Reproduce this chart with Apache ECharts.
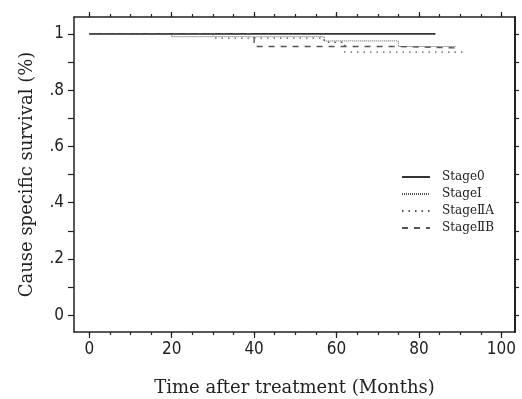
<!DOCTYPE html>
<html>
<head>
<meta charset="utf-8">
<script src="https://cdn.jsdelivr.net/npm/echarts@6/dist/echarts.min.js"></script>
<style>
  html, body { margin: 0; padding: 0; background: #fff; }
  #survivalChart { width: 522px; height: 399px; }
</style>
</head>
<body>
<div id="survivalChart"></div>
<script>
// Kaplan-Meier style curves
const stageNames = ['Stage0', 'StageⅠ', 'StageⅡA', 'StageⅡB'];

const stage0Months = [0, 84];
const stage0Surv = [1, 1];

const stage1Months = [0, 20, 57, 75, 89];
const stage1Surv = [1, 0.99, 0.975, 0.955, 0.955];

const stage2aMonths = [0, 30, 57, 62, 91];
const stage2aSurv = [1, 0.985, 0.97, 0.935, 0.935];

const stage2bMonths = [0, 40, 75, 89];
const stage2bSurv = [1, 0.955, 0.95, 0.95];

const xMajorTicks = [0, 20, 40, 60, 80, 100];
const xMinorTicks = [0, 5, 10, 15, 20, 25, 30, 35, 40, 45, 50, 55, 60, 65, 70, 75, 80, 85, 90, 95, 100];
const yTicks = [0, 0.1, 0.2, 0.3, 0.4, 0.5, 0.6, 0.7, 0.8, 0.9, 1];
const yLabels = [0, 0.2, 0.4, 0.6, 0.8, 1];

function zip(xs, ys) {
  return xs.map((x, i) => [x, ys[i]]);
}

const myChart = echarts.init(document.getElementById('survivalChart'));

const ink = '#222';
const serif = '"DejaVu Serif", "Liberation Serif", serif';
const narrow = '"Liberation Sans Narrow", "DejaVu Sans Condensed", "Liberation Sans", sans-serif';
const X_MIN = -3.7, X_MAX = 103.3;
const Y_MIN = -0.06, Y_MAX = 1.06;

function xAxisBase(pos, ticks, len, withLine) {
  return {
    type: 'value', position: pos, min: X_MIN, max: X_MAX,
    axisLine: { show: withLine, onZero: false, lineStyle: { color: ink, width: 1.5 } },
    axisTick: { show: true, customValues: ticks, length: len, lineStyle: { color: ink, width: 1.2 } },
    axisLabel: { show: false },
    splitLine: { show: false }
  };
}

const xBottom = xAxisBase('bottom', xMajorTicks, 6, true);
xBottom.axisLabel = {
  show: true, customValues: xMajorTicks, margin: 9,
  fontFamily: narrow, fontSize: 17, color: ink
};
xBottom.name = 'Time after treatment (Months)';
xBottom.nameLocation = 'middle';
xBottom.nameGap = 47;
xBottom.nameTextStyle = { fontFamily: serif, fontSize: 18, color: ink };

function stageSeries(i, months, surv, width, dash) {
  return {
    name: stageNames[i], type: 'line', step: 'end',
    symbol: 'none', showSymbol: false,
    data: zip(months, surv),
    itemStyle: { color: '#444' },
    lineStyle: { color: i === 0 ? '#333' : '#555', width: width, type: dash }
  };
}

let option = {
  backgroundColor: '#fff',
  animation: false,
  grid: { left: 74, right: 7, top: 17, bottom: 67, outerBoundsMode: 'none', containLabel: false },
  legend: {
    orient: 'vertical', left: 396, top: 166,
    itemWidth: 28, itemHeight: 11, itemGap: 5,
    itemStyle: { opacity: 0 },
    textStyle: { fontFamily: serif, fontSize: 12, color: ink, padding: [0, 0, 0, 7] },
    data: stageNames
  },
  xAxis: [
    xBottom,
    xAxisBase('bottom', xMinorTicks, 3, false),
    xAxisBase('top', xMajorTicks, 5, true),
    xAxisBase('top', xMinorTicks, 3, false)
  ],
  yAxis: [
    {
      type: 'value', position: 'left', min: Y_MIN, max: Y_MAX,
      axisLine: { show: true, onZero: false, lineStyle: { color: ink, width: 1.5 } },
      axisTick: { show: true, customValues: yTicks, length: 6, lineStyle: { color: ink, width: 1.2 } },
      axisLabel: {
        show: true, customValues: yLabels, margin: 10,
        fontFamily: narrow, fontSize: 17, color: ink,
        formatter: v => (v === 0 || v === 1) ? String(v) : String(Number(v.toFixed(1))).replace(/^0/, '')
      },
      splitLine: { show: false },
      name: 'Cause specific survival (%)',
      nameLocation: 'middle', nameGap: 38,
      nameTextStyle: { fontFamily: serif, fontSize: 18, color: ink }
    },
    {
      type: 'value', position: 'right', min: Y_MIN, max: Y_MAX,
      axisLine: { show: true, onZero: false, lineStyle: { color: ink, width: 2 } },
      axisTick: { show: true, customValues: yTicks, length: 4, lineStyle: { color: ink, width: 1.2 } },
      axisLabel: { show: false },
      splitLine: { show: false }
    }
  ],
  series: [
    stageSeries(0, stage0Months, stage0Surv, 1.6, 'solid'),
    stageSeries(1, stage1Months, stage1Surv, 1, [1, 1]),
    stageSeries(2, stage2aMonths, stage2aSurv, 1.4, [1.5, 5]),
    stageSeries(3, stage2bMonths, stage2bSurv, 1.4, [6, 6])
  ]
};
myChart.setOption(option);
</script>
</body>
</html>
